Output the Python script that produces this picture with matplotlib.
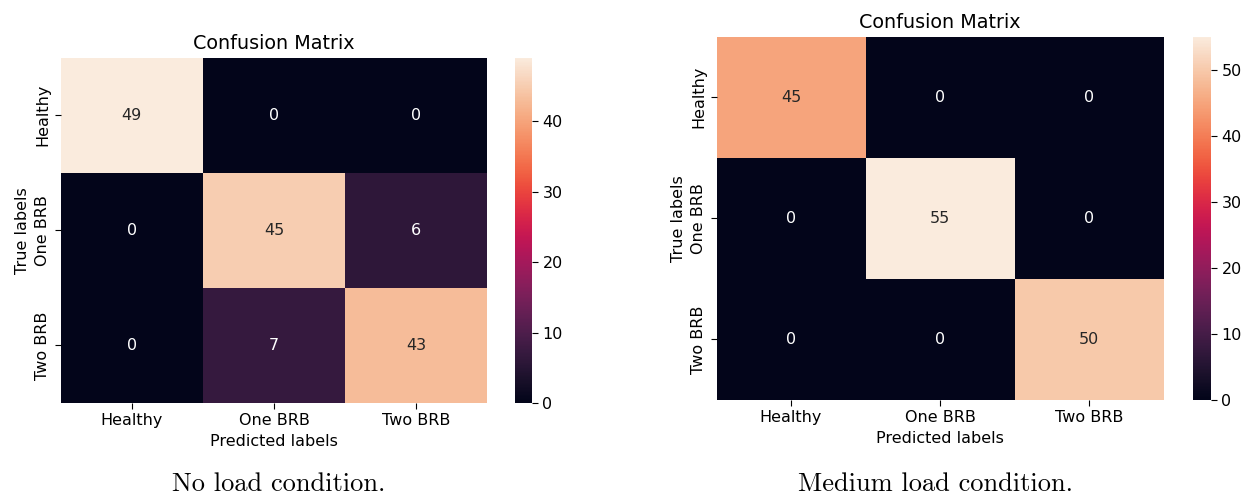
import numpy as np
import matplotlib
matplotlib.use("Agg")
import matplotlib.pyplot as plt
import seaborn as sns

class_names = ["Healthy", "One BRB", "Two BRB"]

no_load_counts = [
    [49, 0, 0],
    [0, 45, 6],
    [0, 7, 43],
]
medium_load_counts = [
    [45, 0, 0],
    [0, 55, 0],
    [0, 0, 50],
]

captions = ["No load condition.", "Medium load condition."]

W, H = 1244, 495
fig = plt.figure(figsize=(W / 100, H / 100), dpi=100)


def rect(x0, x1, y0, y1):
    # pixel box (top-left origin) -> figure fraction [left, bottom, width, height]
    return [x0 / W, 1 - y1 / H, (x1 - x0) / W, (y1 - y0) / H]


panels = [
    (no_load_counts, rect(60.5, 487.5, 57.5, 403), rect(515, 532, 58, 403), 279),
    (medium_load_counts, rect(716.5, 1163.5, 36.5, 400), rect(1193, 1211, 37, 400), 935),
]

for (counts, ax_rect, cb_rect, cap_x), caption in zip(panels, captions):
    ax = fig.add_axes(ax_rect)
    cax = fig.add_axes(cb_rect)
    sns.heatmap(np.array(counts), annot=True, fmt="d", ax=ax, cbar_ax=cax,
                xticklabels=class_names, yticklabels=class_names,
                annot_kws={"fontsize": 11.5})
    ax.set_title("Confusion Matrix", fontsize=13.8)
    ax.set_xlabel("Predicted labels", fontsize=11.5)
    ax.set_ylabel("True labels", fontsize=11.5)
    ax.tick_params(axis="both", labelsize=11.5, length=4)
    ax.set_yticklabels(class_names, rotation=90, va="center")
    ax.set_xticklabels(class_names, rotation=0)
    cax.tick_params(labelsize=11.5, length=4)
    fig.text(cap_x / W, 4 / H, caption, ha="center", va="baseline",
             fontsize=19, family="cmr10")

fig.savefig("out.png", dpi=100)
